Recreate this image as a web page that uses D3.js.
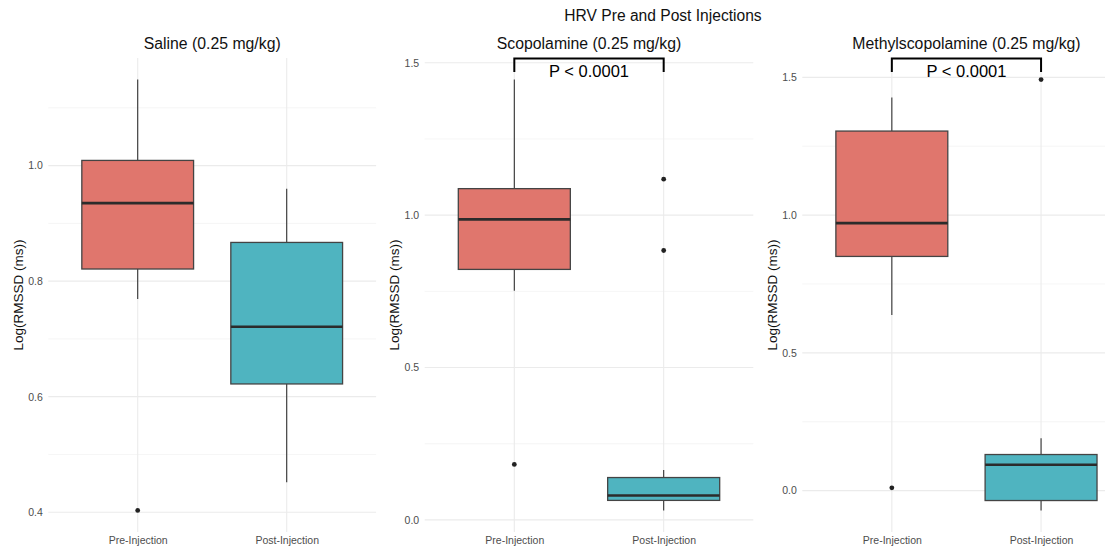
<!DOCTYPE html>
<html>
<head>
<meta charset="utf-8">
<script src="https://d3js.org/d3.v7.min.js"></script>
<title>HRV Pre and Post Injections</title>
<style>
  body { margin: 0; background: #fff; }
  text { font-family: "Liberation Sans", Arial, Helvetica, sans-serif; }
</style>
</head>
<body>
<svg width="1105" height="552"></svg>
<script>
// ---- data ----
const groups = ["Pre-Injection", "Post-Injection"];
const panelTitles = ["Saline (0.25 mg/kg)", "Scopolamine (0.25 mg/kg)", "Methylscopolamine (0.25 mg/kg)"];

// box statistics per panel, [pre, post]
const whiskerLow  = [[0.769, 0.452], [0.752, 0.031], [0.637, -0.072]];
const quart1      = [[0.821, 0.622], [0.822, 0.064], [0.850, -0.036]];
const medians     = [[0.935, 0.721], [0.986, 0.080], [0.971, 0.094]];
const quart3      = [[1.009, 0.867], [1.087, 0.139], [1.305, 0.131]];
const whiskerHigh = [[1.149, 0.960], [1.445, 0.164], [1.427, 0.190]];
const outliers    = [[[0.403], []], [[0.182], [1.118, 0.884]], [[0.010], [1.492]]];

const majorTicks = [[0.4, 0.6, 0.8, 1.0], [0.0, 0.5, 1.0, 1.5], [0.0, 0.5, 1.0, 1.5]];
const minorTicks = [[0.5, 0.7, 0.9, 1.1], [0.25, 0.75, 1.25], [0.25, 0.75, 1.25]];
const sigLabels = [null, "P < 0.0001", "P < 0.0001"];

const fills = ["#e0766d", "#4fb4c0"];

// ---- layout ----
const svg = d3.select("svg");
const plotTop = 58, plotBottom = 532;
const panelX = [[48.3, 376.1], [424.7, 753.3], [802.3, 1130.6]];

svg.append("text")
  .attr("x", 663).attr("y", 21)
  .attr("text-anchor", "middle")
  .attr("font-size", 15.6).attr("fill", "#111")
  .text("HRV Pre and Post Injections");

panelTitles.forEach(function(title, p) {
  const [left, right] = panelX[p];
  const g = svg.append("g");

  // y domain: data extent with 5% expansion (like ggplot)
  const all = whiskerLow[p].concat(whiskerHigh[p], outliers[p][0], outliers[p][1]);
  const lo = d3.min(all), hi = d3.max(all), pad = (hi - lo) * 0.05;
  const y = d3.scaleLinear().domain([lo - pad, hi + pad]).range([plotBottom, plotTop]);
  const x = d3.scalePoint().domain(groups).range([left, right]).padding(0.6);
  const bw = x.step() * 0.75;

  // grid
  g.selectAll(".minor").data(minorTicks[p]).enter().append("line")
    .attr("x1", left).attr("x2", right)
    .attr("y1", d => y(d)).attr("y2", d => y(d))
    .attr("stroke", "#f2f2f2").attr("stroke-width", 0.8);
  g.selectAll(".major").data(majorTicks[p]).enter().append("line")
    .attr("x1", left).attr("x2", right)
    .attr("y1", d => y(d)).attr("y2", d => y(d))
    .attr("stroke", "#ebebeb").attr("stroke-width", 1.1);
  g.selectAll(".vgrid").data(groups).enter().append("line")
    .attr("x1", d => x(d)).attr("x2", d => x(d))
    .attr("y1", plotTop).attr("y2", plotBottom)
    .attr("stroke", "#ebebeb").attr("stroke-width", 1.1);

  // y axis labels
  const yAxis = g.append("g")
    .attr("transform", "translate(" + left + ",0)")
    .call(d3.axisLeft(y).tickValues(majorTicks[p]).tickSize(0).tickPadding(5.5).tickFormat(d3.format(".1f")));
  yAxis.select(".domain").remove();
  yAxis.selectAll("text").attr("font-size", 10.5).attr("fill", "#4d4d4d")
    .attr("font-family", '"Liberation Sans", Arial, sans-serif');

  // x axis labels
  const xAxis = g.append("g")
    .attr("transform", "translate(0," + plotBottom + ")")
    .call(d3.axisBottom(x).tickSize(0).tickPadding(5));
  xAxis.select(".domain").remove();
  xAxis.selectAll("text").attr("font-size", 10.5).attr("fill", "#4d4d4d")
    .attr("font-family", '"Liberation Sans", Arial, sans-serif');

  // titles
  g.append("text")
    .attr("x", (left + right) / 2).attr("y", 49)
    .attr("text-anchor", "middle").attr("font-size", 15.8).attr("fill", "#111")
    .text(title);
  g.append("text")
    .attr("transform", "translate(" + (left - 25.5) + "," + ((plotTop + plotBottom) / 2) + ") rotate(-90)")
    .attr("text-anchor", "middle").attr("font-size", 13.5).attr("fill", "#111")
    .text("Log(RMSSD (ms))");

  // boxes
  groups.forEach(function(grp, i) {
    const cx = x(grp);
    g.append("line").attr("x1", cx).attr("x2", cx)
      .attr("y1", y(whiskerHigh[p][i])).attr("y2", y(quart3[p][i]))
      .attr("stroke", "#333").attr("stroke-width", 1.1);
    g.append("line").attr("x1", cx).attr("x2", cx)
      .attr("y1", y(quart1[p][i])).attr("y2", y(whiskerLow[p][i]))
      .attr("stroke", "#333").attr("stroke-width", 1.1);
    g.append("rect")
      .attr("x", cx - bw / 2).attr("width", bw)
      .attr("y", y(quart3[p][i])).attr("height", y(quart1[p][i]) - y(quart3[p][i]))
      .attr("fill", fills[i]).attr("stroke", "#444").attr("stroke-width", 1.3);
    g.append("line").attr("x1", cx - bw / 2).attr("x2", cx + bw / 2)
      .attr("y1", y(medians[p][i])).attr("y2", y(medians[p][i]))
      .attr("stroke", "#2b2b2b").attr("stroke-width", 2.6);
    g.selectAll(null).data(outliers[p][i]).enter().append("circle")
      .attr("cx", cx).attr("cy", d => y(d)).attr("r", 2.4)
      .attr("fill", "#222");
  });

  // significance bracket
  if (sigLabels[p]) {
    const x1 = x(groups[0]), x2 = x(groups[1]), by = plotTop + 0.5;
    g.append("path")
      .attr("d", "M" + x1 + "," + (by + 13.5) + "V" + by + "H" + x2 + "V" + (by + 13.5))
      .attr("fill", "none").attr("stroke", "#000").attr("stroke-width", 2);
    g.append("text")
      .attr("x", (x1 + x2) / 2).attr("y", 77)
      .attr("text-anchor", "middle").attr("font-size", 16.5).attr("fill", "#000")
      .text(sigLabels[p]);
  }
});
</script>
</body>
</html>
